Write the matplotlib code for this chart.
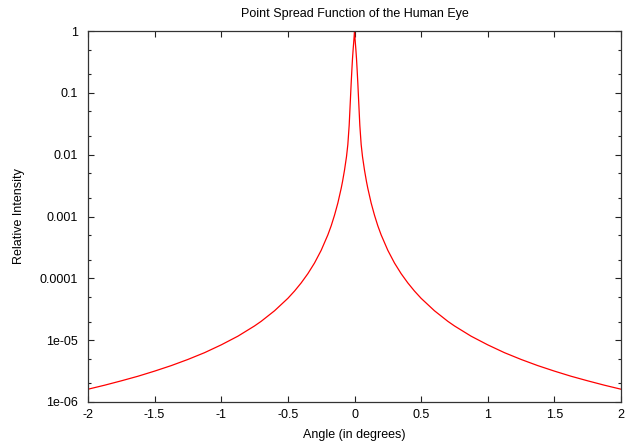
import matplotlib
matplotlib.use("Agg")
import matplotlib.pyplot as plt
from matplotlib.ticker import FixedLocator, FixedFormatter, LogLocator, NullFormatter

# Values (right half; curve is symmetric about 0)
angle_pos = [0.0, 0.0025, 0.005, 0.01, 0.015, 0.02, 0.025, 0.03, 0.04, 0.05, 0.06,
             0.075, 0.09, 0.1, 0.125, 0.15, 0.175, 0.2, 0.25, 0.3, 0.35, 0.4, 0.45,
             0.5, 0.6, 0.7, 0.75, 0.875, 1.0, 1.125, 1.25, 1.375, 1.5, 1.625, 1.75,
             1.875, 2.0]
intensity_pos = [1.0, 0.827, 0.70, 0.51, 0.358, 0.23, 0.143, 0.084, 0.0297, 0.0146,
                 0.00931, 0.00562, 0.00366, 0.00285, 0.00165, 0.00105, 7.07e-4,
                 5.04e-4, 2.84e-4, 1.77e-4, 1.19e-4, 8.44e-5, 6.23e-5, 4.75e-5,
                 2.99e-5, 2.02e-5, 1.70e-5, 1.16e-5, 8.4e-6, 6.28e-6, 4.88e-6,
                 3.88e-6, 3.16e-6, 2.61e-6, 2.2e-6, 1.87e-6, 1.61e-6]

angle = [-a for a in angle_pos[::-1]] + angle_pos[1:]
intensity = intensity_pos[::-1] + intensity_pos[1:]

x_ticks = [-2, -1.5, -1, -0.5, 0, 0.5, 1, 1.5, 2]
x_tick_labels = ["-2", "-1.5", "-1", "-0.5", "0", "0.5", "1", "1.5", "2"]
y_ticks = [1e-6, 1e-5, 1e-4, 1e-3, 1e-2, 1e-1, 1]
y_tick_labels = ["1e-06", "1e-05", "0.0001", "0.001", "0.01", "0.1", "1"]

title = "Point Spread Function of the Human Eye"
x_label = "Angle (in degrees)"
y_label = "Relative Intensity"

plt.rcParams['font.family'] = ['Liberation Sans', 'DejaVu Sans']
plt.rcParams['font.size'] = 9

fig = plt.figure(figsize=(6.25, 4.45), dpi=100)
ax = fig.add_axes([88 / 625, 1 - 402 / 445, (621 - 88) / 625, (402 - 31) / 445])

ax.plot(angle, intensity, color="#ff0000", lw=0.9)

ax.set_yscale("log")
ax.set_xlim(-2, 2)
ax.set_ylim(1e-6, 1)

ax.xaxis.set_major_locator(FixedLocator(x_ticks))
ax.xaxis.set_major_formatter(FixedFormatter(x_tick_labels))
ax.yaxis.set_major_locator(FixedLocator(y_ticks))
ax.yaxis.set_major_formatter(FixedFormatter(y_tick_labels))
ax.yaxis.set_minor_locator(LogLocator(base=10, subs=(2.0, 5.0), numticks=20))
ax.yaxis.set_minor_formatter(NullFormatter())
ax.xaxis.set_minor_locator(FixedLocator([]))

ax.tick_params(which="both", direction="in", top=True, right=True,
               color="#222222", width=0.8)
ax.tick_params(which="major", length=4.5)
ax.tick_params(which="minor", length=2.5)
ax.tick_params(axis="y", which="major", pad=7)
ax.tick_params(axis="x", which="major", pad=5)

for s in ax.spines.values():
    s.set_color("#333333")
    s.set_linewidth(0.9)

ax.set_title(title, fontsize=9, pad=10)
ax.set_xlabel(x_label, labelpad=6)
ax.set_ylabel(y_label, labelpad=11)

fig.savefig("out.png", dpi=100)
